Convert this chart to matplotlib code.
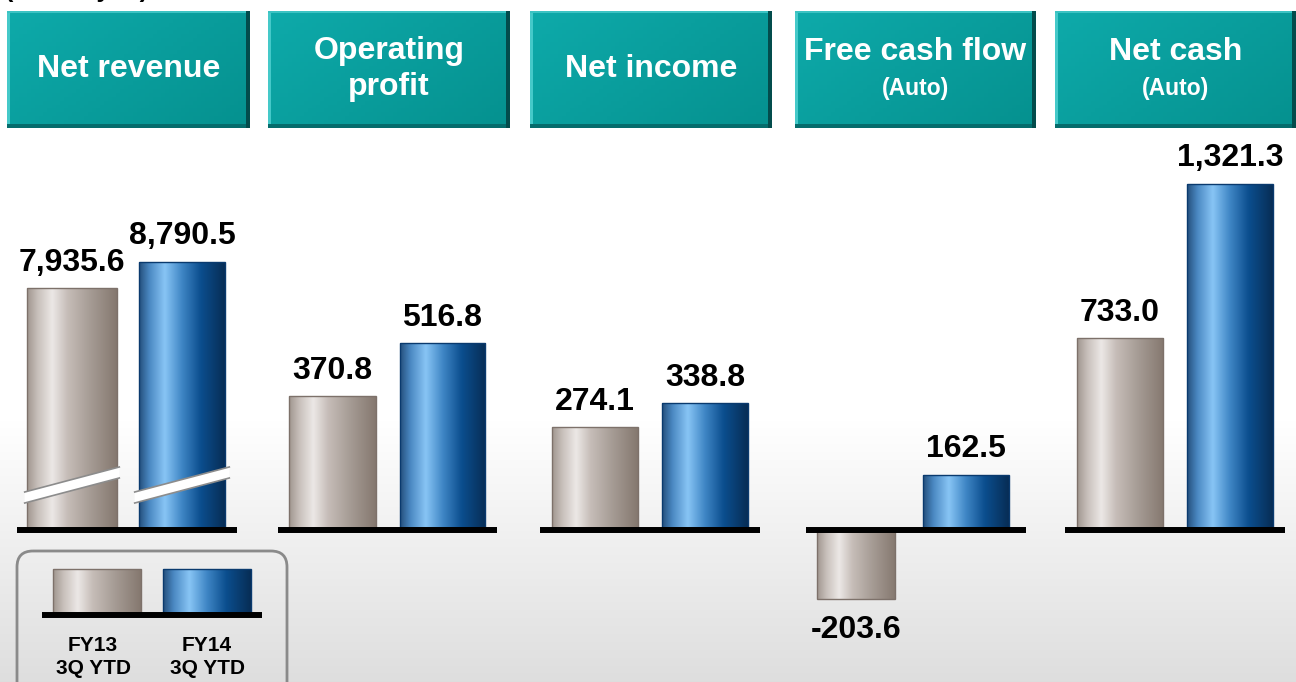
import numpy as np
import matplotlib
matplotlib.use("Agg")
import matplotlib.pyplot as plt
from matplotlib.colors import LinearSegmentedColormap, to_rgb
from matplotlib.patches import FancyBboxPatch, Polygon, Rectangle

# ---------------- data ----------------
unit_label = "(Billion yen)"
metrics = ["Net revenue", "Operating\nprofit", "Net income", "Free cash flow", "Net cash"]
subtitles = ["", "", "", "(Auto)", "(Auto)"]
periods = ["FY13\n3Q YTD", "FY14\n3Q YTD"]
fy13 = [7935.6, 370.8, 274.1, -203.6, 733.0]
fy14 = [8790.5, 516.8, 338.8, 162.5, 1321.3]

# ---------------- layout / style ----------------
W, H = 1296, 682
plt.rcParams['font.family'] = ['Liberation Sans', 'DejaVu Sans']
fig = plt.figure(figsize=(W / 100, H / 100), dpi=100)

def px_axes(x0, ytop, x1, ybot, z=1):
    return fig.add_axes([x0 / W, 1 - ybot / H, (x1 - x0) / W, (ybot - ytop) / H], zorder=z)

gray_cmap = LinearSegmentedColormap.from_list(
    "g", [(0, "#a0968f"), (0.12, "#c8c0bb"), (0.28, "#ece8e6"), (0.45, "#c6bdb8"),
          (0.7, "#a69c95"), (1.0, "#85786f")])
blue_cmap = LinearSegmentedColormap.from_list(
    "b", [(0, "#244f7c"), (0.12, "#4a88c2"), (0.3, "#88c5f5"), (0.5, "#3f86c5"),
          (0.72, "#0b4e8e"), (1.0, "#072d55")])
grad = np.linspace(0, 1, 256).reshape(1, -1)

# background
bg = fig.add_axes([0, 0, 1, 1], zorder=0)
bg.set_xlim(0, W); bg.set_ylim(H, 0); bg.axis("off")
yy = np.arange(H)
lvl = np.where(yy < 420, 1.0, 1.0 - (yy - 420) / (H - 420) * 0.13)
bgimg = np.repeat(lvl[:, None, None], 3, axis=2) * np.ones((1, 4, 3))
bg.imshow(bgimg, extent=[0, W, H, 0], aspect="auto", zorder=0)

# unit label (mostly cut off at top, as in the source slide)
bg.text(5, -3, unit_label, fontsize=18, fontweight="bold", va="baseline", ha="left", color="black")

# header boxes
hdr_x = [(7, 250), (268, 510), (530, 772), (795, 1036), (1055, 1296)]
hy0, hy1 = 11, 128
c1 = np.array(to_rgb("#0eaaaa")); c2 = np.array(to_rgb("#05918f"))
for (x0, x1), name, sub in zip(hdr_x, metrics, subtitles):
    gx, gy = np.meshgrid(np.linspace(0, 1, 60), np.linspace(0, 1, 30))
    t = (0.6 * gx + 0.4 * gy)[..., None]
    img = c1 * (1 - t) + c2 * t
    bg.imshow(img, extent=[x0, x1, hy1, hy0], aspect="auto", zorder=2)
    bg.add_patch(Rectangle((x0, hy0), 3, hy1 - hy0, color="#45c9c9", zorder=3, lw=0))
    bg.add_patch(Rectangle((x0, hy0), x1 - x0, 2, color="#3cc3c3", zorder=3, lw=0))
    bg.add_patch(Rectangle((x0, hy1 - 4), x1 - x0, 4, color="#056c6c", zorder=3, lw=0))
    bg.add_patch(Rectangle((x1 - 4, hy0), 4, hy1 - hy0, color="#034c4c", zorder=3, lw=0))
    cx = (x0 + x1) / 2
    if sub:
        bg.text(cx, 52, name, color="white", fontsize=23, fontweight="bold", ha="center", va="center", zorder=4)
        bg.text(cx, 88, sub, color="white", fontsize=16.5, fontweight="bold", ha="center", va="center", zorder=4)
    else:
        bg.text(cx, 69, name, color="white", fontsize=23, fontweight="bold", ha="center", va="center",
                linespacing=1.22, zorder=4)

# panels
panel_x = [(17, 237), (278, 497), (540, 760), (806, 1026), (1065, 1285)]
panel_shift = [0, 0, 0, 0.045, 0]                       # small horizontal offset of bars
panel_w = [(0.81, 0.78), (0.79, 0.78), (0.78, 0.78), (0.71, 0.78), (0.79, 0.78)]
scales = [0.0305, 0.361, 0.375, 0.341, 0.262]           # px per unit
ytop_px, base_px, ybot_px = 140, 530, 645
edge_cols = ["#7d716a", "#0a3a6e"]
cmaps = [gray_cmap, blue_cmap]

def grad_bars(ax, bars, cmap, ec):
    for r in bars:
        r.set_facecolor("none"); r.set_edgecolor(ec); r.set_linewidth(1.0); r.set_zorder(3)
        x, y, w, h = r.get_x(), r.get_y(), r.get_width(), r.get_height()
        im = ax.imshow(grad, cmap=cmap, extent=[x, x + w, y, y + h], aspect="auto",
                       interpolation="bicubic", zorder=2)
        im.set_clip_path(r)

for i, ((x0, x1), sc) in enumerate(zip(panel_x, scales)):
    ax = px_axes(x0, ytop_px, x1, ybot_px, z=2)
    ax.patch.set_alpha(0)
    vals = [fy13[i], fy14[i]]
    for j, v in enumerate(vals):
        b = ax.bar([j], [v], width=panel_w[i][j])
        grad_bars(ax, b, cmaps[j], edge_cols[j])
        off = 7.5 if v >= 0 else -11
        ax.annotate(f"{v:,.1f}", (j, v), xytext=(0, off), textcoords="offset points",
                    ha="center", va="bottom" if v >= 0 else "top",
                    fontsize=23, fontweight="bold", color="black", zorder=5)
    ax.axhline(0, color="black", lw=4.3, solid_capstyle="butt", zorder=4)
    ax.set_xlim(-0.5 + panel_shift[i], 1.5 + panel_shift[i])
    ax.set_ylim(-(ybot_px - base_px) / sc, (base_px - ytop_px) / sc)
    ax.axis("off")
    if i == 0:
        # axis-break marks on the truncated net revenue bars
        brk = [885, 1246, 1705, 2066]
        for j in range(2):
            xl, xr = j - 0.43, j + 0.43
            ax.add_patch(Polygon([(xl, brk[0]), (xr, brk[2]), (xr, brk[3]), (xl, brk[1])],
                                 closed=True, facecolor="white", edgecolor="none", zorder=4))
            ax.plot([xl, xr], [brk[0], brk[2]], color="#8c8c8c", lw=1.2, zorder=4)
            ax.plot([xl, xr], [brk[1], brk[3]], color="#8c8c8c", lw=1.2, zorder=4)

# legend
bg.add_patch(FancyBboxPatch((17, 551), 270, 160, boxstyle="round,pad=0,rounding_size=16",
                            facecolor="none", edgecolor="#8a8a8a", lw=2, zorder=2))
lax = px_axes(42, 560, 262, 620, z=2)
lax.patch.set_alpha(0)
for j in range(2):
    b = lax.bar([j], [1], width=0.8)
    grad_bars(lax, b, cmaps[j], edge_cols[j])
lax.axhline(0, color="black", lw=4.3, solid_capstyle="butt", zorder=4)
lax.set_xlim(-0.5, 1.5)
lax.set_ylim(-(620 - 615) / 46, (615 - 560) / 46)
lax.axis("off")
for j, lab in enumerate(periods):
    bg.text([93, 207][j], 657, lab, fontsize=15, fontweight="bold", ha="center", va="center",
            linespacing=1.25, zorder=3)

fig.savefig("out.png", dpi=100)
